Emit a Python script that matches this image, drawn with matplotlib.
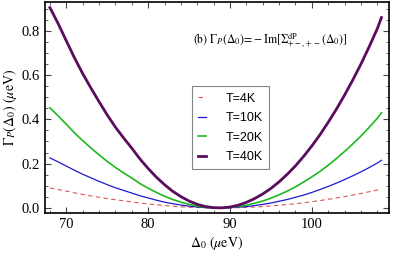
import matplotlib
matplotlib.use("Agg")
import matplotlib.pyplot as plt
from matplotlib.ticker import MultipleLocator, FormatStrFormatter

# Δ0 (μeV) 격자와 각 온도별 Γ_P 값
delta0 = [68, 69, 70, 71, 72, 73, 74, 75, 76, 77, 78, 79, 80, 81, 82, 83, 84, 85, 86, 87, 88, 89,
          90, 91, 92, 93, 94, 95, 96, 97, 98, 99, 100, 101, 102, 103, 104, 105, 106, 107, 108, 108.5]
gamma_4k = [0.090, 0.083, 0.076, 0.068, 0.061, 0.054, 0.048, 0.042, 0.037, 0.032, 0.027, 0.022,
            0.018, 0.014, 0.011, 0.0075, 0.005, 0.003, 0.002, 0.0006, 0.0001, 0.0,
            0.0004, 0.0012, 0.0025, 0.004, 0.006, 0.009, 0.012, 0.015, 0.019, 0.023, 0.028, 0.033,
            0.039, 0.045, 0.051, 0.058, 0.065, 0.073, 0.081, 0.086]
gamma_10k = [0.226, 0.208, 0.189, 0.170, 0.152, 0.136, 0.120, 0.105, 0.091, 0.079, 0.067, 0.055,
             0.045, 0.035, 0.026, 0.019, 0.013, 0.008, 0.004, 0.0015, 0.0003, 0.0001,
             0.001, 0.003, 0.006, 0.0105, 0.016, 0.022, 0.030, 0.038, 0.048, 0.058, 0.070, 0.083,
             0.097, 0.112, 0.128, 0.145, 0.163, 0.182, 0.203, 0.215]
gamma_20k = [0.452, 0.416, 0.378, 0.339, 0.304, 0.271, 0.240, 0.210, 0.183, 0.158, 0.135, 0.110,
             0.089, 0.070, 0.053, 0.038, 0.026, 0.016, 0.008, 0.003, 0.0005, 0.0002,
             0.002, 0.006, 0.012, 0.021, 0.031, 0.044, 0.059, 0.076, 0.095, 0.117, 0.140, 0.165,
             0.193, 0.223, 0.255, 0.289, 0.325, 0.364, 0.405, 0.430]
gamma_40k = [0.905, 0.833, 0.755, 0.678, 0.607, 0.542, 0.480, 0.420, 0.365, 0.316, 0.270, 0.221,
             0.178, 0.139, 0.105, 0.075, 0.051, 0.031, 0.016, 0.006, 0.001, 0.0003,
             0.004, 0.012, 0.025, 0.042, 0.063, 0.088, 0.118, 0.152, 0.190, 0.233, 0.280, 0.331,
             0.387, 0.446, 0.510, 0.578, 0.650, 0.728, 0.810, 0.860]
labels = ["T=4K", "T=10K", "T=20K", "T=40K"]

plt.rcParams["mathtext.fontset"] = "stix"
fig = plt.figure(figsize=(4.11, 2.56), dpi=100)
ax = fig.add_axes([0.1095, 0.168, 0.8365, 0.824])

ax.plot(delta0, gamma_4k, color="#dd5555", lw=0.8, ls=(0, (4, 3)), label=labels[0])
ax.plot(delta0, gamma_10k, color="#1a1acc", lw=0.9, label=labels[1])
ax.plot(delta0, gamma_20k, color="#1fb81f", lw=1.2, label=labels[2])
ax.plot(delta0, gamma_40k, color="#5a0c5e", lw=2.0, label=labels[3])

ax.set_xlim(67.4, 109.4)
ax.set_ylim(-0.023, 0.93)
ax.xaxis.set_major_locator(MultipleLocator(10))
ax.xaxis.set_minor_locator(MultipleLocator(2))
ax.yaxis.set_major_locator(MultipleLocator(0.2))
ax.yaxis.set_minor_locator(MultipleLocator(0.05))
ax.yaxis.set_major_formatter(FormatStrFormatter("%.1f"))
ax.tick_params(which="both", direction="in", top=True, right=True, labelsize=10.5, color="#444444")
ax.tick_params(which="major", length=4, width=0.8)
ax.tick_params(which="minor", length=2, width=0.6)
for lbl in ax.get_xticklabels() + ax.get_yticklabels():
    lbl.set_fontfamily("Liberation Serif")
for s in ax.spines.values():
    s.set_linewidth(1.2)

ax.set_xlabel(r"$\Delta_0\ (\mu\mathrm{eV})$", fontsize=10, labelpad=2)
ax.set_ylabel(r"$\Gamma_P(\Delta_0)\ (\mu\mathrm{eV})$", fontsize=10, labelpad=2)
ax.text(0.43, 0.82, r"$\mathrm{(b)}\ \Gamma_P(\Delta_0)\!=\!-\mathrm{Im}[\Sigma^{\mathrm{dP}}_{+-,+-}(\Delta_0)]$",
        transform=ax.transAxes, fontsize=8.5, va="center")

leg = ax.legend(loc="upper left", bbox_to_anchor=(0.41, 0.63), fancybox=False,
                edgecolor="#666666", handlelength=0.6, handletextpad=1.6,
                prop={"family": "Liberation Sans", "size": 9}, borderpad=0.5, labelspacing=0.6)
leg.get_frame().set_linewidth(0.8)

fig.savefig("out.png", dpi=100)
